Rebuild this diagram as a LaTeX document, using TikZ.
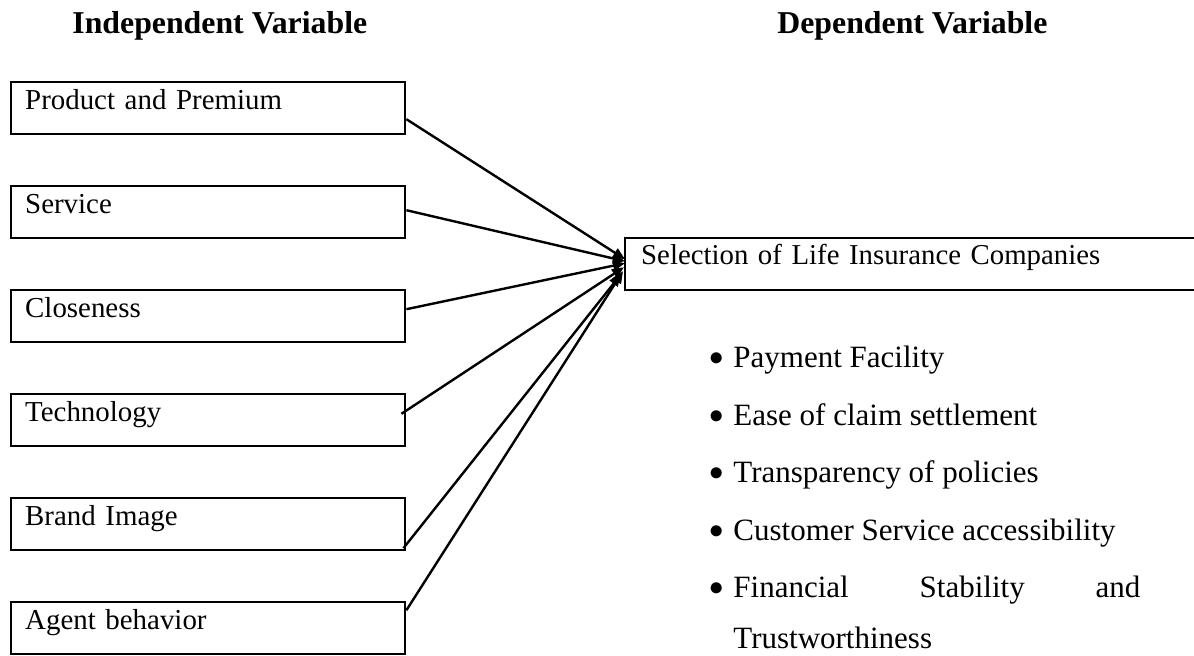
\documentclass[tikz,border=0pt]{standalone}
\usepackage{fontspec}
\setmainfont{Liberation Serif}
\usepackage{tikz}
\usetikzlibrary{positioning}
\usetikzlibrary{arrows.meta}
\newcommand{\itemdot}{\llap{\raisebox{1pt}{$\bullet$}\kern4.6pt}}
\tikzstyle{varbox}=[draw=black, line width=1.2pt, anchor=north west, inner xsep=7pt, inner ysep=0pt, text width=183pt, text height=13.5pt, text depth=12.5pt, align=left, font=\fontsize{14.45pt}{17pt}\selectfont]
\tikzstyle{selbox}=[draw=black, line width=1.2pt, anchor=north west, inner xsep=8pt, inner ysep=0pt, text width=277pt, text height=13pt, text depth=13pt, align=left, font=\fontsize{14.4pt}{17pt}\selectfont]
\tikzstyle{headtext}=[anchor=base west, inner sep=0pt, font=\fontsize{15.9pt}{19pt}\selectfont\bfseries]
\tikzstyle{itemtext}=[anchor=base west, inner sep=0pt, font=\fontsize{15.5pt}{19pt}\selectfont]
\tikzstyle{arrowpath}=[-{Triangle[length=6pt,width=5pt]}, line width=1.2pt]

\begin{document}
\begin{tikzpicture}[x=0.5pt, y=-0.5pt]
        \path[use as bounding box] (0,0) rectangle (1194,655);
        \clip (0,0) rectangle (1194,655);

        \node[headtext] (indep) at (72,33) {Independent Variable};
        \node[headtext] (dep) at (777,33) {Dependent Variable};

        \node[varbox] (p1) at (10,81) {Product and Premium};
        \node[varbox, below=24.8pt of p1] (p2) {Service};
        \node[varbox, below=24.8pt of p2] (p3) {Closeness};
        \node[varbox, below=24.8pt of p3] (p4) {Technology};
        \node[varbox, below=24.8pt of p4] (p5) {Brand Image};
        \node[varbox, below=24.8pt of p5] (p6) {Agent behavior};

        \node[selbox] (sel) at (624,237) {Selection of Life Insurance Companies};

        \node[itemtext] (b1) at (733,367) {\itemdot Payment Facility};
        \node[itemtext] (b2) at (733,425) {\itemdot Ease of claim settlement};
        \node[itemtext] (b3) at (733,482) {\itemdot Transparency of policies};
        \node[itemtext] (b4) at (733,540) {\itemdot Customer Service accessibility};
        \node[itemtext] (b5) at (733,597) {\itemdot\makebox[203.5pt][s]{Financial Stability and}};
        \node[itemtext] (b6) at (733,648) {Trustworthiness};

        \path[arrowpath]
            ([yshift=-5.5pt]p1.east) edge ([xshift=0.5pt,yshift=2.5pt]sel.west)
            ([yshift=1pt]p2.east) edge ([xshift=0.5pt,yshift=1.5pt]sel.west)
            ([yshift=3.5pt]p3.east) edge ([xshift=0.5pt,yshift=0.5pt]sel.west)
            ([xshift=-2.5pt,yshift=3.2pt]p4.east) edge ([yshift=-1.5pt]sel.west)
            ([xshift=-1.5pt,yshift=-12pt]p5.east) edge ([xshift=-1.5pt,yshift=-5pt]sel.west)
            ([yshift=9pt]p6.east) edge ([xshift=-0.5pt,yshift=-3.5pt]sel.west);
    \end{tikzpicture}
\end{document}
